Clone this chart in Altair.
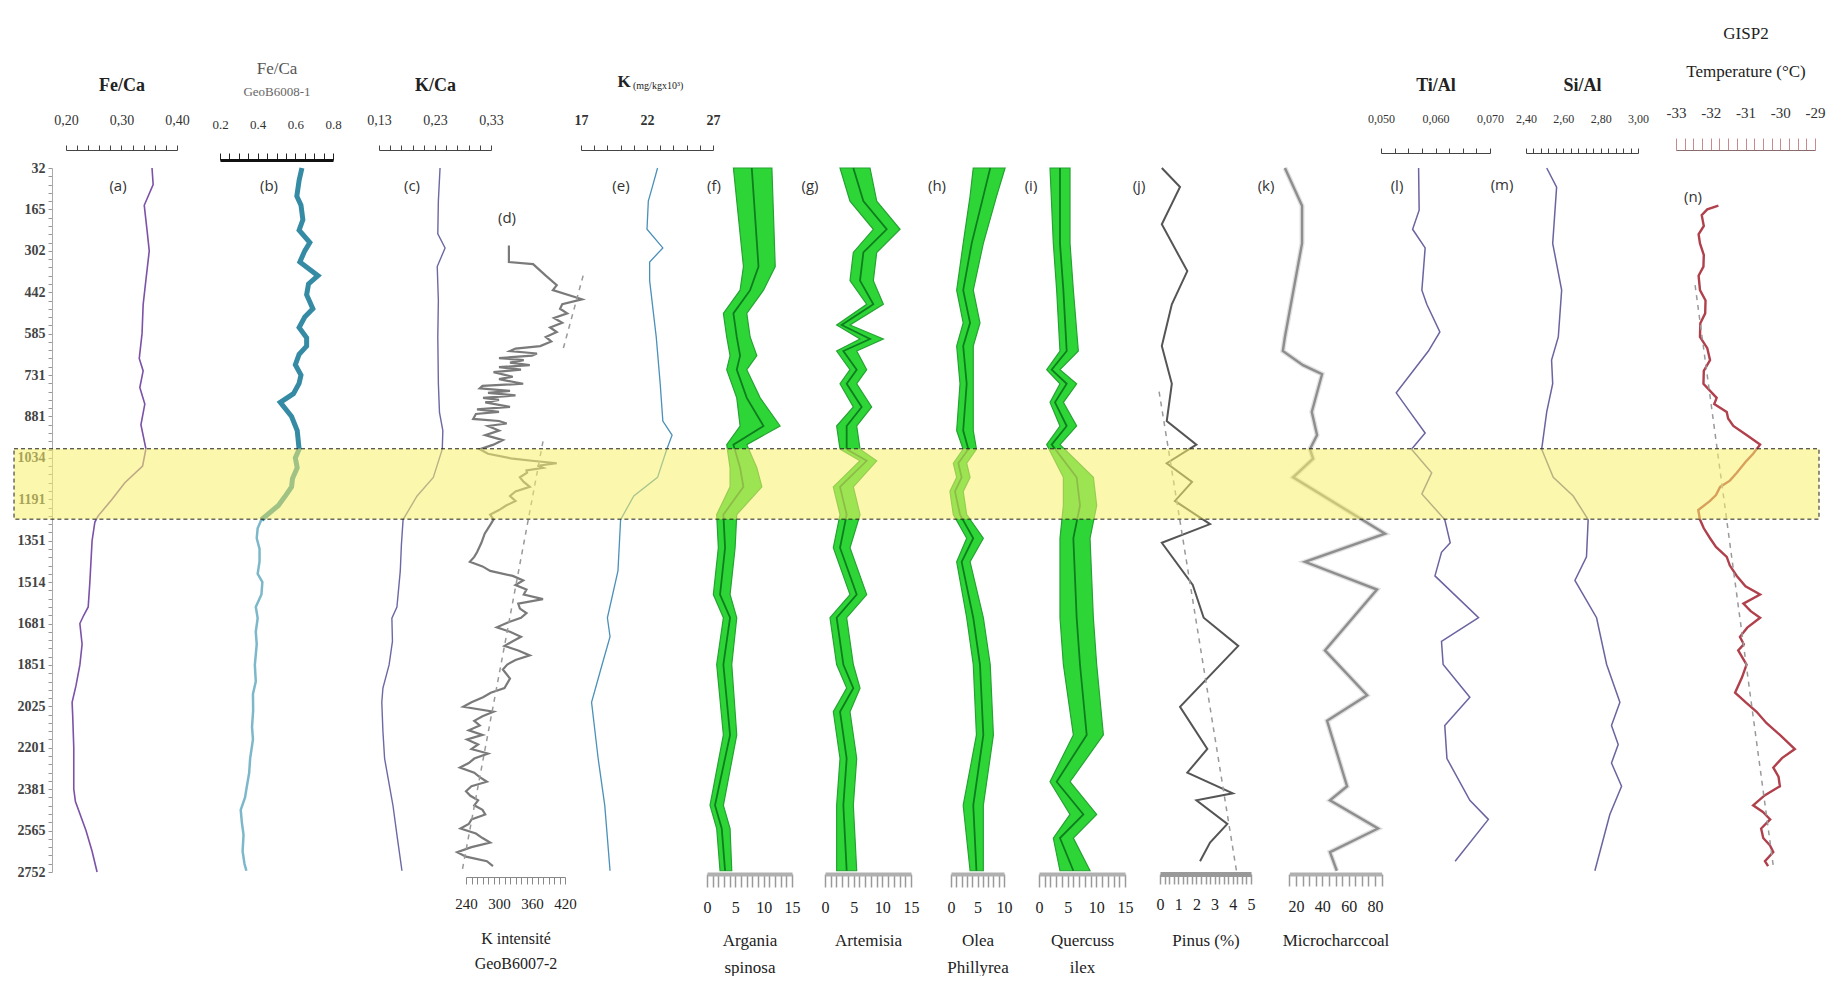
import json
import altair as alt
import pandas as pd

# ---------------- data ----------------
AGE_LABELS = [32, 165, 302, 442, 585, 731, 881, 1034, 1191, 1351, 1514, 1681,
              1851, 2025, 2201, 2381, 2565, 2752]
BAND = [6.78, 8.48]

A_POS = [0, 0.4, 0.9, 1.5, 2.0, 2.7, 3.3, 4.0, 4.6, 4.9, 5.3, 5.7, 6.2, 6.78, 7.2, 7.6, 8.0, 8.4,
         8.55, 9.0, 10.0, 10.6, 10.8, 11.0, 11.5, 12.0, 12.5, 12.9, 13.2, 14.0, 15.0, 15.3, 16.0, 16.5, 17.0]
A_VAL = [0.355, 0.357, 0.341, 0.346, 0.350, 0.344, 0.339, 0.337, 0.332, 0.339, 0.333, 0.342, 0.335, 0.344,
         0.338, 0.306, 0.283, 0.258, 0.252, 0.247, 0.243, 0.240, 0.232, 0.225, 0.229, 0.225, 0.218, 0.211,
         0.212, 0.214, 0.214, 0.217, 0.236, 0.247, 0.256]

B_POS = [0, 0.3, 0.68, 0.9, 1.25, 1.5, 1.8, 2.0, 2.27, 2.6,
         2.8, 3.06, 3.4, 3.6, 3.85, 4.1, 4.3, 4.5, 4.75, 5.0,
         5.2, 5.45, 5.66, 6.0, 6.34, 6.79, 7.0, 7.24, 7.5, 7.7,
         7.9, 8.15, 8.49, 8.7, 8.94, 9.2, 9.5, 9.8, 10.0, 10.3,
         10.6, 10.87, 11.2, 11.5, 12.0, 12.4, 12.7, 13.1, 13.5, 13.8,
         14.26, 14.6, 15.0, 15.2, 15.5, 15.8, 16.1, 16.5, 16.8, 16.97]
B_VAL = [0.635, 0.62, 0.608, 0.63, 0.64, 0.62, 0.677, 0.65, 0.624, 0.72,
         0.67, 0.66, 0.693, 0.65, 0.62, 0.66, 0.66, 0.62, 0.60, 0.63,
         0.62, 0.59, 0.52, 0.58, 0.61, 0.62, 0.60, 0.61, 0.585, 0.58,
         0.55, 0.51, 0.42, 0.40, 0.395, 0.41, 0.41, 0.40, 0.425, 0.42,
         0.39, 0.40, 0.39, 0.395, 0.385, 0.39, 0.375, 0.376, 0.37, 0.375,
         0.36, 0.355, 0.34, 0.333, 0.31, 0.316, 0.325, 0.32, 0.33, 0.34]

C_POS = [0, 0.8, 1.59, 1.93, 2.38, 3.2, 4.08, 5.2, 5.9, 6.34,
         6.79, 7.47, 7.92, 8.49, 9.1, 9.73, 10.6, 10.87, 11.43, 12.0,
         12.56, 12.9, 13.6, 14.26, 15.4, 16.2, 16.97]
C_VAL = [0.239, 0.236, 0.235, 0.248, 0.234, 0.236, 0.235, 0.236, 0.238, 0.244,
         0.243, 0.227, 0.198, 0.173, 0.170, 0.168, 0.162, 0.153, 0.154, 0.148,
         0.137, 0.135, 0.137, 0.140, 0.155, 0.163, 0.171]

D_POS = [1.87, 2.27, 2.32, 2.6, 2.83, 2.95, 3.17, 3.29, 3.40, 3.51,
         3.62, 3.74, 3.85, 3.96, 4.08, 4.19, 4.30, 4.36, 4.42, 4.48,
         4.53, 4.59, 4.64, 4.70, 4.76, 4.81, 4.87, 4.93, 5.04, 5.10,
         5.21, 5.26, 5.32, 5.38, 5.43, 5.49, 5.55, 5.60, 5.66, 5.77,
         5.83, 5.89, 5.94, 6.06, 6.11, 6.17, 6.23, 6.34, 6.45, 6.57,
         6.68, 6.79, 6.90, 7.02, 7.07, 7.13, 7.19, 7.24, 7.30, 7.36,
         7.47, 7.58, 7.70, 7.81, 7.92, 8.04, 8.15, 8.26, 8.37, 8.49,
         8.60, 8.83, 9.05, 9.28, 9.39, 9.51, 9.62, 9.73, 9.85, 9.96,
         10.07, 10.18, 10.30, 10.41, 10.52, 10.64, 10.75, 10.86, 10.98, 11.09,
         11.20, 11.32, 11.43, 11.54, 11.65, 11.77, 11.88, 11.99, 12.11, 12.33,
         12.56, 12.67, 12.78, 12.90, 13.01, 13.13, 13.24, 13.35, 13.46, 13.58,
         13.69, 13.80, 13.92, 14.03, 14.14, 14.26, 14.37, 14.48, 14.60, 14.71,
         14.82, 14.93, 15.05, 15.16, 15.27, 15.39, 15.50, 15.61, 15.73, 15.84,
         15.95, 16.07, 16.18, 16.29, 16.40, 16.52, 16.63, 16.74, 16.86]
D_VAL = [318, 318, 362, 385, 405, 398, 451, 415, 411, 424,
         400, 415, 393, 405, 385, 395, 375, 330, 320, 369,
         360, 300, 345, 320, 356, 300, 340, 290, 325, 300,
         344, 270, 265, 320, 280, 330, 271, 300, 275, 320,
         260, 300, 258, 253, 300, 314, 280, 300, 275, 307,
         290, 265, 280, 325, 360, 405, 370, 380, 350, 351,
         338, 345, 356, 330, 320, 330, 313, 300, 284, 290,
         285, 274, 268, 260, 255, 247, 270, 284, 325, 344,
         330, 350, 345, 380, 335, 338, 350, 340, 315, 296,
         320, 340, 325, 310, 335, 356, 330, 315, 307, 320,
         310, 285, 271, 250, 235, 290, 270, 255, 265, 245,
         270, 242, 262, 250, 280, 255, 245, 229, 255, 265,
         278, 250, 240, 248, 262, 255, 270, 275, 250, 245,
         230, 258, 270, 284, 250, 224, 240, 278, 289]
D_TREND1_POS = [2.6, 4.4]
D_TREND1_VAL = [453, 416]
D_TREND2_POS = [6.6, 16.97]
D_TREND2_VAL = [380, 233]

E_POS = [0, 0.46, 0.8, 1.48, 1.93, 2.27, 2.72, 4.08, 5.21, 6.11,
         6.45, 6.79, 7.47, 7.92, 8.49, 9.73, 10.86, 11.32, 11.99, 12.90,
         14.26, 15.39, 16.97]
E_VAL = [22.8, 22.4, 22.1, 22.0, 23.2, 22.2, 22.2, 22.7, 23.0, 23.2,
         23.9, 23.5, 22.8, 21.0, 20.0, 19.8, 19.0, 19.2, 18.6, 17.8,
         18.3, 18.8, 19.2]

F_POS = [0.0, 2.38, 2.95, 3.51, 4.08, 4.53, 4.87, 5.55, 6.23, 6.68, 7.24, 7.70, 8.37,
         9.17, 10.30, 10.86, 11.99, 13.69, 15.39, 15.95, 16.97]
F_LO = [4.66, 6.43, 5.84, 2.89, 3.48, 4.07, 3.48, 5.25, 5.84, 3.48, 4.07, 4.07, 1.71,
        2.0, 1.12, 2.89, 1.71, 2.89, 0.53, 1.71, 2.3]
F_MID = [7.9, 9.09, 7.61, 4.66, 5.25, 5.84, 5.25, 7.02, 9.97, 4.66, 5.84, 6.43, 2.89,
         3.19, 2.3, 4.07, 2.89, 4.07, 1.41, 2.6, 3.19]
F_HI = [11.45, 12.04, 9.97, 7.02, 7.61, 8.79, 7.02, 9.38, 12.9, 7.02, 8.79, 9.68, 5.25,
        4.96, 4.07, 5.25, 4.37, 5.25, 2.89, 4.07, 4.37]

G_POS = [0.0, 0.80, 1.48, 2.04, 2.72, 3.29, 3.79, 4.13, 4.42, 4.87, 5.21, 5.77, 6.23,
         6.79, 7.07, 7.70, 8.37, 9.17, 10.30, 10.86, 11.99, 12.56, 13.13, 14.26, 15.39, 16.97]
G_LO = [2.62, 4.36, 8.43, 4.94, 4.36, 7.27, 2.03, 6.11, 2.03, 4.36, 2.62, 4.94, 2.03,
        2.62, 6.11, 1.45, 2.62, 1.45, 4.36, 0.87, 2.03, 3.78, 1.45, 2.62, 2.03, 2.03]
G_MID = [4.94, 6.69, 10.76, 6.69, 6.11, 8.43, 2.91, 7.85, 3.2, 5.53, 3.78, 6.4, 3.78,
         3.78, 7.27, 2.62, 3.78, 2.62, 5.53, 2.03, 3.2, 4.94, 2.62, 3.78, 3.2, 3.78]
G_HI = [7.85, 9.02, 13.09, 9.02, 8.43, 10.18, 4.36, 10.18, 5.53, 7.27, 5.53, 8.14, 5.53,
        6.11, 9.02, 4.94, 6.11, 4.36, 7.27, 3.78, 4.94, 6.11, 4.36, 5.53, 4.94, 5.53]

H_POS = [0.0, 0.68, 1.82, 2.95, 3.74, 4.30, 5.21, 6.34, 6.79, 7.13, 7.47, 7.81, 8.37,
         8.94, 9.51, 10.86, 11.99, 13.69, 15.39, 16.97]
H_LO = [4.2, 3.6, 2.3, 1.07, 2.3, 1.07, 1.7, 1.07, 2.3, 0.44, 1.07, -0.2, 0.44,
        2.96, 1.07, 2.96, 4.2, 4.8, 2.3, 3.6]
H_MID = [7.4, 6.1, 3.9, 2.3, 3.6, 2.3, 2.96, 2.3, 3.27, 1.38, 2.01, 0.75, 1.7,
         4.2, 2.01, 4.2, 5.47, 6.1, 4.2, 4.8]
H_HI = [10.2, 8.6, 6.1, 4.2, 5.47, 4.2, 4.2, 4.2, 4.8, 2.96, 3.6, 2.3, 2.96,
        6.1, 3.6, 6.1, 7.4, 8.0, 6.1, 6.1]

I_POS = [0.0, 1.82, 2.95, 4.42, 4.87, 5.21, 5.66, 6.23, 6.68, 7.47, 8.15, 8.94, 10.86,
         11.99, 13.69, 14.82, 15.61, 16.18, 16.97]
I_LO = [1.92, 2.5, 3.08, 3.66, 1.34, 3.66, 1.92, 3.66, 1.34, 4.25, 4.25, 3.66, 3.66,
        4.25, 5.99, 1.92, 5.41, 2.5, 3.66]
I_MID = [3.66, 3.66, 4.25, 4.83, 2.21, 4.83, 2.79, 4.83, 2.21, 6.57, 7.15, 5.99, 6.57,
         7.15, 8.32, 3.08, 7.74, 3.66, 5.99]
I_HI = [5.41, 5.41, 5.99, 6.86, 3.66, 6.57, 4.25, 6.57, 3.66, 9.48, 10.06, 8.9, 9.48,
        10.06, 11.23, 5.41, 10.06, 5.99, 8.9]

J_POS = [0.0, 0.46, 1.36, 2.49, 3.29, 4.30, 5.21, 6.11, 6.68, 7.13,
         7.58, 8.04, 8.60, 9.05, 10.07, 10.86, 11.54, 13.01, 14.03, 14.60,
         15.10, 15.27, 15.84, 16.29, 16.74]
J_VAL = [0.1, 1.1, 0.1, 1.5, 0.65, 0.1, 0.65, 0.37, 2.0, 0.37,
         1.76, 0.82, 2.75, 0.1, 1.8, 2.4, 4.3, 1.1, 2.6, 1.5,
         4.0, 2.0, 3.7, 2.75, 2.2]
J_TREND_POS = [5.4, 16.97]
J_TREND_VAL = [-0.05, 4.2]

K_POS = [0.0, 0.91, 1.82, 4.08, 4.42, 4.76, 4.98, 5.89, 6.45, 6.79,
         7.02, 7.47, 8.83, 9.51, 10.18, 11.65, 12.73, 13.35, 14.93, 15.27,
         15.95, 16.52, 16.97]
K_VAL = [11.6, 24.6, 24.6, 11.6, 10.0, 25.3, 39.8, 32.0, 36.0, 30.6,
         33.0, 17.8, 87.6, 26.8, 81.5, 42.0, 74.0, 43.6, 58.8, 45.8,
         82.3, 45.8, 51.0]

L_POS = [0.0, 1.02, 1.48, 1.93, 2.95, 3.29, 3.96, 4.42, 5.43, 5.89,
         6.40, 6.79, 7.36, 7.87, 8.49, 9.05, 9.28, 9.85, 10.86, 11.43,
         11.99, 12.78, 13.46, 14.26, 15.27, 15.73, 16.74]
L_VAL = [0.0569, 0.0570, 0.0558, 0.0581, 0.0575, 0.0584, 0.0608, 0.0587, 0.0528, 0.0553,
         0.0581, 0.0556, 0.0593, 0.0575, 0.0617, 0.0627, 0.0611, 0.0599, 0.0679, 0.0611,
         0.0614, 0.0663, 0.0617, 0.0621, 0.0663, 0.0697, 0.0636]

M_POS = [0.0, 0.46, 1.82, 2.95, 4.08, 4.64, 5.21, 5.89, 6.79, 7.47,
         7.92, 8.49, 9.39, 9.96, 10.86, 11.99, 12.90, 13.46, 13.92, 14.37,
         14.93, 15.61, 16.97]
M_VAL = [2.511, 2.564, 2.543, 2.591, 2.573, 2.537, 2.543, 2.511, 2.484, 2.546,
         2.653, 2.733, 2.724, 2.662, 2.778, 2.832, 2.903, 2.858, 2.894, 2.858,
         2.912, 2.849, 2.769]

N_POS = [0.91, 1.0, 1.14, 1.4, 1.6, 1.82, 2.1, 2.38, 2.6, 2.95,
         3.2, 3.51, 3.75, 4.08, 4.35, 4.64, 4.9, 5.21, 5.55, 5.7,
         5.89, 6.05, 6.23, 6.45, 6.68, 6.90, 7.1, 7.36, 7.55, 7.70,
         7.9, 8.04, 8.26, 8.49, 8.7, 8.94, 9.15, 9.39, 9.6, 9.85,
         10.1, 10.30, 10.52, 10.7, 10.86, 11.1, 11.32, 11.5, 11.65, 11.99,
         12.3, 12.67, 12.9, 13.13, 13.4, 13.69, 14.03, 14.25, 14.48, 14.7,
         14.93, 15.15, 15.39, 15.55, 15.73, 15.95, 16.18, 16.35, 16.52, 16.74,
         16.86]
N_VAL = [-31.78, -32.1, -32.26, -32.2, -32.35, -32.31, -32.2, -32.21, -32.35, -32.31,
         -32.15, -32.16, -32.3, -32.31, -32.1, -32.02, -32.2, -32.21, -31.83, -31.9,
         -31.54, -31.5, -31.35, -30.97, -30.58, -30.78, -31.0, -31.25, -31.45, -31.73,
         -31.85, -32.02, -32.36, -32.31, -32.2, -32.02, -31.85, -31.54, -31.45, -31.25,
         -31.0, -30.58, -31.06, -30.85, -30.58, -30.95, -31.16, -31.05, -31.21, -30.97,
         -31.1, -31.30, -31.0, -30.68, -30.4, -30.01, -29.58, -29.95, -30.20, -30.05,
         -30.01, -30.45, -30.78, -30.5, -30.29, -30.55, -30.49, -30.3, -30.20, -30.44,
         -30.35]
N_TREND_POS = [2.83, 16.86]
N_TREND_VAL = [-32.45, -30.2]

# ---------------- layout ----------------
SERIF = "Liberation Serif"
SANS = "Open Sans"
X0, Y0 = 52, 168          # page position of plot origin
W, H = 1775, 704

YSCALE = alt.Scale(domain=[0, 17], reverse=True, nice=False, zero=False)


def ticks(start, step, n, nd=5):
    return [round(start + k * step, nd) for k in range(n)]


def label_expr(vals, majors):
    labs = [majors.get(v, "") for v in vals]
    return f"{json.dumps(labs)}[indexof({json.dumps(vals)}, datum.value)]"


# one shared y axis, repeated identically on every layer so that it merges
YVALS = [round(k * 0.2, 1) for k in range(86)]
Y_AXIS = alt.Axis(orient="left", values=YVALS,
                  labelExpr=label_expr(YVALS, {k: str(a) for k, a in enumerate(AGE_LABELS)}),
                  grid=False, tickSize=4, tickColor="#999", domainColor="#aaa",
                  labelFont=SERIF, labelFontSize=14, labelFontWeight="bold", labelColor="#444",
                  labelPadding=3, title=None, labelOverlap=False, labelFlush=False)


def Y(field):
    return alt.Y(field, scale=YSCALE, axis=Y_AXIS)


def xscale(dom, prange):
    return alt.Scale(domain=dom, range=[prange[0] - X0, prange[1] - X0], nice=False, zero=False)


def top_axis(vals, majors, offset, title=None, title_y=-65, **kw):
    d = dict(orient="top", offset=offset, values=vals, labelExpr=label_expr(vals, majors),
             grid=False, labelOverlap=False, labelFlush=False, tickSize=5, labelPadding=18,
             labelFont=SERIF, labelFontSize=14, labelColor="#333", tickColor="#444",
             domainColor="#444", titleFont=SERIF, titleFontSize=18, titleFontWeight="bold",
             titleColor="#222", titleBaseline="middle")
    if title is None:
        d["title"] = None
    else:
        d["title"] = title
        d["titleY"] = title_y
    d.update(kw)
    return alt.Axis(**d)


def bottom_axis(vals, majors, offset, title, title_y, **kw):
    d = dict(orient="bottom", offset=offset, values=vals, labelExpr=label_expr(vals, majors),
             grid=False, labelOverlap=False, labelFlush=False, tickSize=13, labelPadding=12,
             labelFont=SERIF, labelFontSize=16, labelColor="#222", tickColor="#9a9a9a",
             tickWidth=1.5, domainColor="#b0b0b0", domainWidth=4,
             title=title, titleY=title_y, titleFont=SERIF, titleFontSize=17,
             titleFontWeight="normal", titleColor="#222", titleBaseline="middle",
             titleLineHeight=27)
    d.update(kw)
    return alt.Axis(**d)


def curve(pos, val, sc, axis, color, width, flt=None, **mk):
    df = pd.DataFrame({"i": pos, "v": val})
    base = alt.Chart(df)
    if flt is not None:
        base = base.transform_filter(flt)
    return base.mark_line(color=color, strokeWidth=width, **mk).encode(
        x=alt.X("v:Q", scale=sc, axis=axis),
        y=Y("i:Q"),
        order="i:Q",
    )


def text(txt, px_, py_, size=15, font=SANS, color="#333", weight="normal", align="center"):
    return alt.Chart(pd.DataFrame({"t": [txt]})).mark_text(
        font=font, fontSize=size, color=color, fontWeight=weight, align=align, baseline="middle"
    ).encode(x=alt.value(px_ - X0), y=alt.value(py_ - Y0), text="t:N")


def green(pos, lo, mid, hi, sc, axis):
    df = pd.DataFrame({"i": pos, "lo": lo, "mid": mid, "hi": hi})
    area = alt.Chart(df).mark_area(orient="horizontal", color="#22d42c", stroke="#1a9e28",
                                   strokeWidth=1.2, opacity=0.95).encode(
        x=alt.X("lo:Q", scale=sc, axis=axis), x2="hi:Q", y=Y("i:Q"))
    line = alt.Chart(df).mark_line(color="#0f7d1f", strokeWidth=1.8).encode(
        x=alt.X("mid:Q", scale=sc, axis=None), y=Y("i:Q"), order="i:Q")
    return [area, line]


layers = []

# (a) Fe/Ca
sa = xscale([0.20, 0.40], [66, 177])
ax_a = top_axis(ticks(0.20, 0.02, 11), {0.2: "0,20", 0.3: "0,30", 0.4: "0,40"}, 18, "Fe/Ca")
layers.append(curve(A_POS, A_VAL, sa, ax_a, "#7b52a8", 1.6))

# (b) Fe/Ca GeoB6008-1
sb = xscale([0.2, 0.8], [220, 333])
ax_b = top_axis(ticks(0.2, 0.05, 13), {0.2: "0.2", 0.4: "0.4", 0.6: "0.6", 0.8: "0.8"}, 8,
                "Fe/Ca", title_y=-92, tickSize=7, tickColor="#222", domainColor="#111",
                domainWidth=3, labelPadding=22, labelFontSize=13, titleFontWeight="normal",
                titleFontSize=17, titleColor="#555")
layers.append(curve(B_POS, B_VAL, sb, ax_b, "#1f7d9a", 5, flt="datum.i <= 8.49", opacity=0.9))
layers.append(curve(B_POS, B_VAL, sb, None, "#7db8ca", 2.5, flt="datum.i >= 8.49"))

# (c) K/Ca
sc_ = xscale([0.13, 0.33], [379, 491])
ax_c = top_axis(ticks(0.13, 0.02, 11), {0.13: "0,13", 0.23: "0,23", 0.33: "0,33"}, 18, "K/Ca")
layers.append(curve(C_POS, C_VAL, sc_, ax_c, "#6c68a4", 1.4))

# (d) K intensity
sd = xscale([240, 420], [466, 565])
ax_d = bottom_axis(ticks(240, 10, 19), {240: "240", 300: "300", 360: "360", 420: "420"}, 5,
                   ["K intensité", "GeoB6007-2"], 61, tickSize=7, tickColor="#888",
                   tickWidth=1, domainColor="#888", domainWidth=1, labelFontSize=15,
                   titleFontSize=16, titleLineHeight=25)
layers.append(curve(D_POS, D_VAL, sd, ax_d, "#7a7a7a", 2.2))
layers.append(curve(D_TREND1_POS, D_TREND1_VAL, sd, None, "#999", 1.5, strokeDash=[5, 5]))
layers.append(curve(D_TREND2_POS, D_TREND2_VAL, sd, None, "#999", 1.5, strokeDash=[5, 5]))

# (e) K mg/kg
se = xscale([17, 27], [581, 713])
ax_e = top_axis(ticks(17, 1, 11), {17: "17", 22: "22", 27: "27"}, 18, None, labelFontWeight="bold")
layers.append(curve(E_POS, E_VAL, se, ax_e, "#4a90b8", 1.3))

# (f)-(i) pollen
sf = xscale([0, 15], [707, 792])
layers.extend(green(F_POS, F_LO, F_MID, F_HI, sf,
                    bottom_axis(ticks(0, 1, 16), {0: "0", 5: "5", 10: "10", 15: "15"}, 2,
                                ["Argania", "spinosa"], 66)))
sg = xscale([0, 15], [825, 911])
layers.extend(green(G_POS, G_LO, G_MID, G_HI, sg,
                    bottom_axis(ticks(0, 1, 16), {0: "0", 5: "5", 10: "10", 15: "15"}, 2,
                                "Artemisia", 66)))
sh = xscale([0, 10], [951, 1004])
layers.extend(green(H_POS, H_LO, H_MID, H_HI, sh,
                    bottom_axis(ticks(0, 1, 11), {0: "0", 5: "5", 10: "10"}, 2,
                                ["Olea", "Phillyrea"], 66)))
si = xscale([0, 15], [1039, 1125])
layers.extend(green(I_POS, I_LO, I_MID, I_HI, si,
                    bottom_axis(ticks(0, 1, 16), {0: "0", 5: "5", 10: "10", 15: "15"}, 2,
                                ["Quercuss", "ilex"], 66)))

# (j) Pinus
sj = xscale([0, 5], [1160, 1251])
ax_j = bottom_axis(ticks(0, 0.25, 21), {0: "0", 1: "1", 2: "2", 3: "3", 4: "4", 5: "5"}, 2,
                   "Pinus (%)", 66, tickSize=10, domainWidth=5, domainColor="#999")
layers.append(curve(J_POS, J_VAL, sj, ax_j, "#555", 2.0))
layers.append(curve(J_TREND_POS, J_TREND_VAL, sj, None, "#999", 1.5, strokeDash=[5, 5]))

# (k) Microcharcoal
sk = xscale([15, 85], [1289.4, 1381.6])
ax_k = bottom_axis(ticks(15, 5, 15), {20: "20", 40: "40", 60: "60", 80: "80"}, 2,
                   "Microcharccoal", 66, tickSize=12)
layers.append(curve(K_POS, K_VAL, sk, ax_k, "#9a9a9a", 5, opacity=0.3))
layers.append(curve(K_POS, K_VAL, sk, None, "#858585", 2.4, opacity=0.9))

# (l) Ti/Al
sl = xscale([0.05, 0.07], [1381, 1490])
ax_l = top_axis(ticks(0.05, 0.0025, 9), {0.05: "0,050", 0.06: "0,060", 0.07: "0,070"}, 15,
                "Ti/Al", title_y=-68, labelFontSize=12, labelPadding=23)
layers.append(curve(L_POS, L_VAL, sl, ax_l, "#6a64a0", 1.5))

# (m) Si/Al
sm = xscale([2.40, 3.00], [1526, 1638])
ax_m = top_axis(ticks(2.40, 0.04, 16), {2.4: "2,40", 2.6: "2,60", 2.8: "2,80", 3.0: "3,00"}, 15,
                "Si/Al", title_y=-68, labelFontSize=12, labelPadding=23)
layers.append(curve(M_POS, M_VAL, sm, ax_m, "#6a64a0", 1.5))

# (n) GISP2 temperature
sn = xscale([-33, -29], [1676, 1815])
ax_n = top_axis(ticks(-33, 0.25, 17), {-33: "-33", -32: "-32", -31: "-31", -30: "-30", -29: "-29"},
                18, ["GISP2", "Temperature (°C)"], title_y=-117, tickSize=12, tickColor="#c88a8a",
                domainColor="#8a6a6a", labelPadding=18, labelFontSize=15,
                titleFontWeight="normal", titleFontSize=17, titleLineHeight=38)
layers.append(curve(N_POS, N_VAL, sn, ax_n, "#b0404c", 2.4))
layers.append(curve(N_TREND_POS, N_TREND_VAL, sn, None, "#999", 1.5, strokeDash=[5, 5]))

# highlighted interval
band = alt.Chart(pd.DataFrame({"y0": [BAND[0]], "y1": [BAND[1]]})).mark_rect(
    fill="#f7f06a", fillOpacity=0.55, stroke="#222", strokeDash=[4, 3], strokeWidth=1
).encode(x=alt.value(14 - X0), x2=alt.value(1819 - X0), y=Y("y0:Q"), y2="y1:Q")
layers.append(band)

# annotations
for t, x, y in [("(a)", 118, 186), ("(b)", 269, 186), ("(c)", 412, 186), ("(d)", 507, 218),
                ("(e)", 621, 186), ("(f)", 714, 186), ("(g)", 810, 186), ("(h)", 937, 186),
                ("(i)", 1031, 186), ("(j)", 1139, 186), ("(k)", 1266, 186), ("(l)", 1397, 186),
                ("(m)", 1502, 185), ("(n)", 1693, 197)]:
    layers.append(text(t, x, y))
layers.append(text("GeoB6008-1", 277, 92, size=13, font=SERIF, color="#666"))
layers.append(text("K", 624, 82, size=17, font=SERIF, color="#222", weight="bold"))
layers.append(text("(mg/kgx10³)", 633, 86, size=10, font=SERIF, color="#222", align="left"))

chart = alt.layer(*layers).resolve_scale(x="independent").properties(
    width=W, height=H,
    autosize=alt.AutoSizeParams(type="none"),
    padding={"left": 44, "top": 160, "right": 4, "bottom": 104},
).configure_view(stroke=None)

chart.save("out.html", embed_options={"renderer": "svg", "actions": False})
